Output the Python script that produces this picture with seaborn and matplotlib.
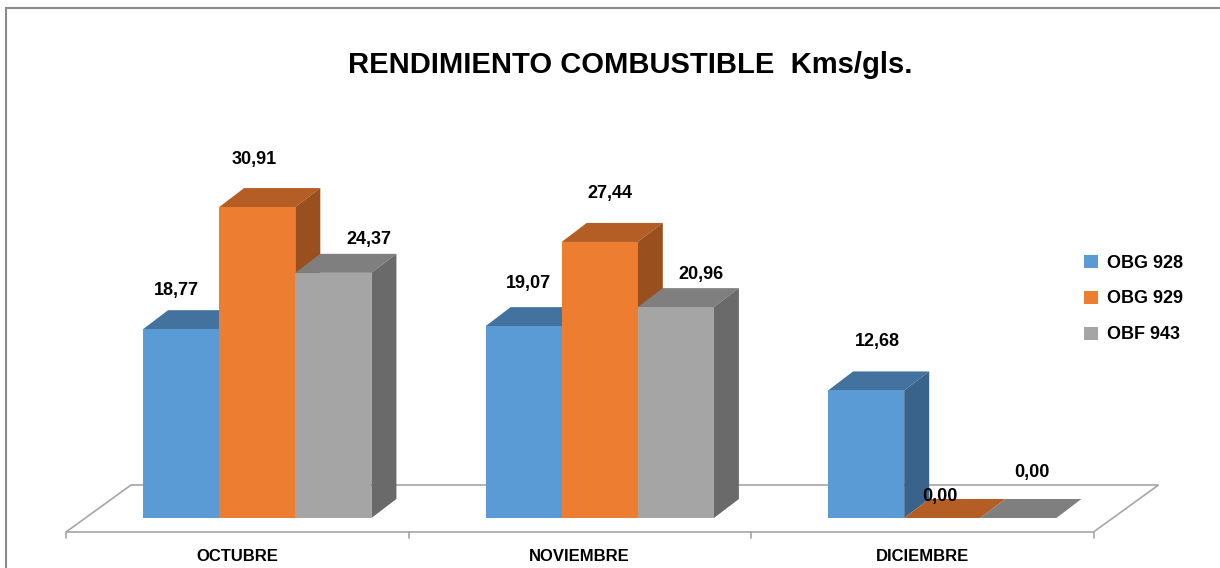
import pandas as pd
import numpy as np
import matplotlib
matplotlib.use("Agg")
import matplotlib.pyplot as plt
import seaborn as sns
from matplotlib.patches import Polygon, Patch, Rectangle
from matplotlib.lines import Line2D
from matplotlib.transforms import ScaledTranslation

# =====================================================
# DATA
# =====================================================

meses = ["OCTUBRE", "NOVIEMBRE", "DICIEMBRE"]
unidades = ["OBG 928", "OBG 929", "OBF 943"]

obg_928 = [18.77, 19.07, 12.68]
obg_929 = [30.91, 27.44, 0.00]
obf_943 = [24.37, 20.96, 0.00]

titulo = "RENDIMIENTO COMBUSTIBLE  Kms/gls."

df = pd.DataFrame({
    "mes": meses * 3,
    "unidad": np.repeat(unidades, 3),
    "valor": obg_928 + obg_929 + obf_943,
})

# =====================================================
# STYLE
# =====================================================

colores = ["#5B9BD5", "#ED7D31", "#A5A5A5"]
color_top = ["#44729E", "#B45D24", "#7F7F7F"]
color_side = ["#3A638B", "#9A4F1E", "#6A6A6A"]

# label offsets in pixels from the bar's front-top centre, per unit / month
label_dx = [[-5, 5, 11], [-3, 10, -2], [36, 25, 14]]
label_dy = [[39, 43, 49], [48, 48, 21], [33, 33, 45]]

sns.set_style("white")
plt.rcParams["font.family"] = ["Liberation Sans", "DejaVu Sans"]
plt.rcParams["text.color"] = "black"

W, H = 1220, 568
fig = plt.figure(figsize=(W / 100, H / 100), dpi=100)
ax = fig.add_axes([86 / W, 50 / H, 1027.5 / W, 402.4 / H])

sns.barplot(
    data=df,
    x="mes",
    y="valor",
    hue="unidad",
    palette=colores,
    width=2 / 3,
    saturation=1,
    legend=False,
    linewidth=0,
    ax=ax
)

ax.set_xlim(-0.5, 2.5)
ax.set_ylim(0, 40)
ax.set_xlabel("")
ax.set_ylabel("")
ax.set_yticks([])
for s in ax.spines.values():
    s.set_visible(False)


def shift(x, y, dx, dy):
    p = ax.transData.transform((x, y))
    return ax.transData.inverted().transform((p[0] + dx, p[1] + dy))


# =====================================================
# FLOOR
# =====================================================

fl = shift(-0.5, 0, -20, -14)
fr = shift(2.5, 0, -20, -14)
br = shift(2.5, 0, 45, 33)
bl = shift(-0.5, 0, 45, 33)
ax.add_patch(Polygon([fl, fr, br, bl], closed=True, facecolor="white",
                     edgecolor="#A6A6A6", linewidth=1.2, zorder=0.5,
                     clip_on=False))

for b in [-0.5, 0.5, 1.5, 2.5]:
    p0 = shift(b, 0, -20, -14)
    p1 = shift(b, 0, -20, -20)
    ax.add_line(Line2D([p0[0], p1[0]], [p0[1], p1[1]], color="#A6A6A6",
                       linewidth=1.2, clip_on=False))

# =====================================================
# 3D FACES
# =====================================================

ddx, ddy = shift(0, 0, 25, 19)

for i, cont in enumerate(ax.containers):
    for j, rect in enumerate(cont):
        x0 = rect.get_x()
        w = rect.get_width()
        h = rect.get_height()
        z = 2 + (j * 3 + i) * 0.1
        rect.set_zorder(z + 0.02)
        top = [(x0, h), (x0 + w, h), (x0 + w + ddx, h + ddy), (x0 + ddx, h + ddy)]
        side = [(x0 + w, 0), (x0 + w, h), (x0 + w + ddx, h + ddy), (x0 + w + ddx, ddy)]
        ax.add_patch(Polygon(top, closed=True, facecolor=color_top[i],
                             edgecolor="none", zorder=z, clip_on=False))
        ax.add_patch(Polygon(side, closed=True, facecolor=color_side[i],
                             edgecolor="none", zorder=z + 0.01, clip_on=False))

        lx, ly = shift(x0 + w / 2, h, label_dx[i][j], label_dy[i][j])
        ax.text(lx, ly, f"{h:.2f}".replace(".", ","), ha="center",
                va="center", fontsize=13, fontweight="bold", color="black",
                zorder=10)

# =====================================================
# AXIS LABELS
# =====================================================

ax.set_xticks(range(len(meses)))
ax.set_xticklabels(meses, fontsize=12, fontweight="bold")
ax.tick_params(axis="x", length=0, pad=22, labelcolor="black")
offset = ScaledTranslation(-0.2, 0, fig.dpi_scale_trans)
for lbl in ax.get_xticklabels():
    lbl.set_transform(lbl.get_transform() + offset)

# =====================================================
# TITLE, LEGEND, BORDER
# =====================================================

fig.text(630 / W, 1 - 65 / H, titulo, ha="center", va="center",
         fontsize=21, fontweight="bold", color="black",
         family=["Liberation Sans Narrow", "Liberation Sans", "DejaVu Sans"])

handles = [Patch(facecolor=c, edgecolor="none") for c in colores]
leg = fig.legend(
    handles=handles,
    labels=unidades,
    loc="center left",
    bbox_to_anchor=(1084 / W, 1 - 299 / H),
    frameon=False,
    prop={"size": 13, "weight": "bold"},
    handlelength=0.75,
    handleheight=0.75,
    handletextpad=0.5,
    labelspacing=1.05,
    borderpad=0,
    borderaxespad=0
)
for t in leg.get_texts():
    t.set_color("black")

fig.add_artist(Rectangle((6 / W, -0.1), 1.2, 1 - 8 / H + 0.1,
                         transform=fig.transFigure, fill=False,
                         edgecolor="#8C8C8C", linewidth=1.5))

fig.savefig("out.png", dpi=100)
